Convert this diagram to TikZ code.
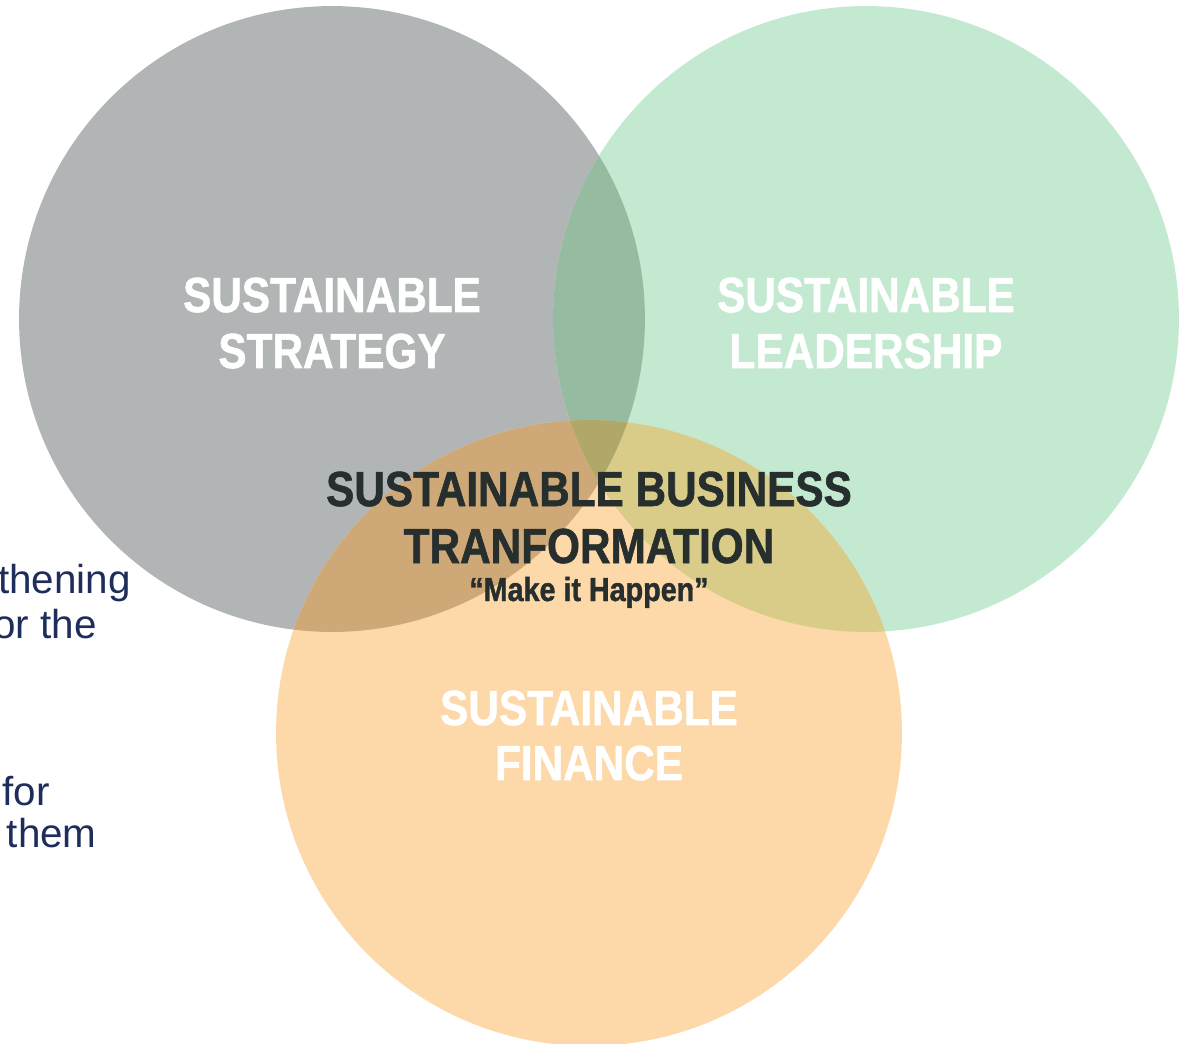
\documentclass[tikz,border=0pt]{standalone}
\usepackage{fontspec}
\newfontfamily\vennfont[FakeStretch=0.86,FakeBold=1.2]{Liberation Sans Bold}
\newfontfamily\notefont{Liberation Sans}
\definecolor{stratgrey}{HTML}{B1B5B5}
\definecolor{leadgreen}{HTML}{C3EAD1}
\definecolor{finorange}{HTML}{FDD8A8}
\definecolor{sgmix}{HTML}{95BBA0}
\definecolor{somix}{HTML}{CFA878}
\definecolor{lomix}{HTML}{D8CC88}
\definecolor{allmix}{HTML}{B0A868}
\definecolor{darktext}{HTML}{262E2E}
\definecolor{navytext}{HTML}{1F2D5B}
\tikzset{bigtitle/.style={font=\vennfont\fontsize{28}{32}\selectfont,text=white,inner sep=0pt,anchor=base}}
\tikzset{centretitle/.style={bigtitle,text=darktext}}
\tikzset{tagline/.style={font=\vennfont\fontsize{19}{22}\selectfont,text=darktext,inner sep=0pt,anchor=base}}
\tikzset{sidetext/.style={font=\notefont\fontsize{23}{28}\selectfont,text=navytext,inner sep=0pt,anchor=base east}}

\begin{document}
\begin{tikzpicture}[x=0.02cm,y=-0.02cm]
            \useasboundingbox (0,0) rectangle (1194,1044);
            % cut-off text on the left
            \foreach \myname/\myx/\myy/\mytext in {side1/131/593/thening,side2/97/638/or the,side3/50/805/for,side4/97/847/them}
            {
                \node[sidetext] (\myname) at (\myx,\myy) {\mytext};
            }
            % setup the circles
            \coordinate (strategy) at (332,319);
            \coordinate (leadership) at (866,319);
            \coordinate (finance) at (589,733);
            \fill[stratgrey] (strategy) circle (6.26cm);
            \fill[leadgreen] (leadership) circle (6.26cm);
            \fill[finorange] (finance) circle (6.26cm);
            % overlaps
            \begin{scope}
                \clip (strategy) circle (6.26cm);
                \fill[sgmix] (leadership) circle (6.26cm);
                \fill[somix] (finance) circle (6.26cm);
            \end{scope}
            \begin{scope}
                \clip (leadership) circle (6.26cm);
                \fill[lomix] (finance) circle (6.26cm);
            \end{scope}
            \begin{scope}
                \clip (strategy) circle (6.26cm);
                \clip (leadership) circle (6.26cm);
                \fill[allmix] (finance) circle (6.26cm);
            \end{scope}
            % labels
            \node[bigtitle] (strat1) at (332,312) {SUSTAINABLE};
            \node[bigtitle] (strat2) at (332,368) {STRATEGY};
            \node[bigtitle] (lead1) at (866,312) {SUSTAINABLE};
            \node[bigtitle] (lead2) at (866,368) {LEADERSHIP};
            \node[bigtitle] (fin1) at (589,725) {SUSTAINABLE};
            \node[bigtitle] (fin2) at (589,780) {FINANCE};
            \node[centretitle] (centre1) at (589,506) {SUSTAINABLE BUSINESS};
            \node[centretitle] (centre2) at (589,563) {TRANFORMATION};
            \node[tagline] (motto) at (589,601) {“Make it Happen”};
        \end{tikzpicture}
\end{document}
